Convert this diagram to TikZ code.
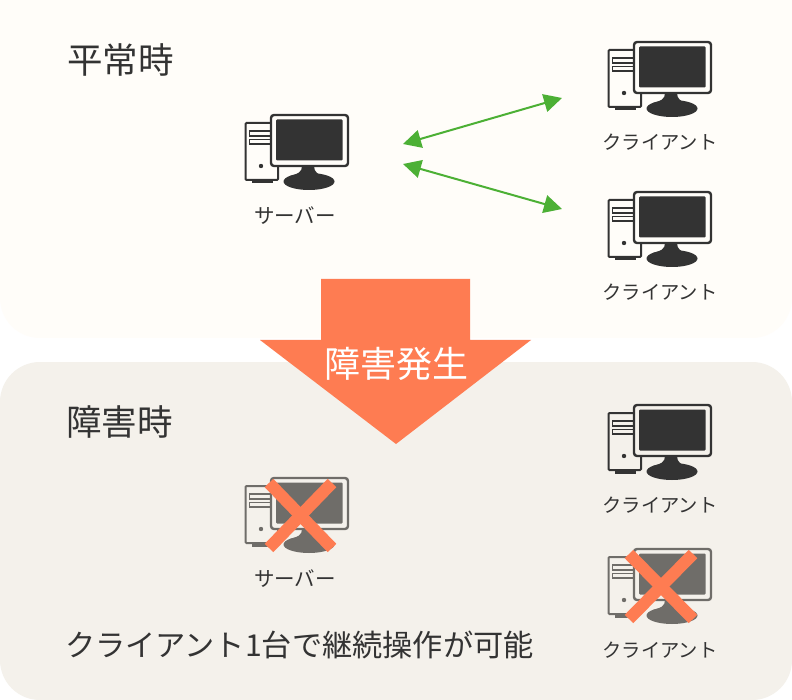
\documentclass[tikz,border=0pt]{standalone}
\usepackage{fontspec}
\newfontfamily\cjk{Noto Sans CJK JP}[Scale=1]
\usetikzlibrary{arrows.meta}
\definecolor{panelA}{HTML}{FFFDF9}
\definecolor{panelB}{HTML}{F4F1EB}
\definecolor{ink}{HTML}{333333}
\definecolor{faded}{HTML}{6F6D69}
\definecolor{coral}{HTML}{FE7C52}
\definecolor{leaf}{HTML}{4CB035}
\tikzset{
  x=1pt,y=-1pt,
  label text/.style={font=\cjk\fontsize{19.3}{22}\selectfont,text=ink,inner sep=0pt},
  srv text/.style={font=\cjk\fontsize{20.5}{22}\selectfont,text=ink,inner sep=0pt},
  title text/.style={font=\cjk\fontsize{35.5}{40}\selectfont,text=ink,inner sep=0pt,anchor=west},
  note text/.style={font=\cjk\fontsize{30.2}{36}\selectfont,text=ink,inner sep=0pt,anchor=west},
  both tips/.style={draw=leaf,line width=2pt,{Triangle[length=18pt,width=18pt]}-{Triangle[length=18pt,width=18pt]}},
  cross bar/.style={draw=coral,line width=12pt},
  pics/pcicon/.style args={#1/#2}{code={
    \draw[draw=#1,line width=2pt,rounded corners=1pt] (15.5,23) rectangle (48,80);
    \fill[#1] (22,80) rectangle (43,83.5);
    \draw[draw=#1,line width=1.8pt] (40,31) -- (19.5,31) -- (19.5,36) -- (40,36);
    \draw[draw=#1,line width=1.8pt] (40,39.5) -- (19.5,39.5) -- (19.5,44) -- (40,44);
    \fill[#1] (31,66) circle[radius=2.2];
    \fill[#1] (72,66) .. controls (72,72) and (68,74) .. (60,76) -- (92,76) .. controls (88,74) and (84,72) .. (84,66) -- cycle;
    \fill[#1] (79,81.5) ellipse[x radius=25.5,y radius=8.5];
    \draw[draw=#1,fill=#2,line width=2.4pt,rounded corners=3pt] (41,15) rectangle (118,66);
    \fill[#1,rounded corners=1pt] (46,19.5) rectangle (112.5,60.5);
  }}
}
\begin{document}
\begin{tikzpicture}
\useasboundingbox (0,0) rectangle (792,700);
\fill[white] (0,0) rectangle (792,700);
\fill[panelA,rounded corners=40pt] (0,-50) rectangle (792,338);
\fill[panelB,rounded corners=40pt] (0,362) rectangle (792,700);

\node[title text] (titleA) at (67,60) {平常時};
\node[title text] (titleB) at (66,422) {障害時};

% icons
\pic at (230,100) {pcicon=ink/panelA};
\pic at (593,27) {pcicon=ink/panelA};
\pic at (593,177) {pcicon=ink/panelA};
\pic at (593,390) {pcicon=ink/panelB};
\pic at (230,463) {pcicon=faded/panelB};
\pic at (593,534) {pcicon=faded/panelB};

\node[srv text] (server) at (295,216) {サーバー};
\node[label text] (clientA) at (660,142) {クライアント};
\node[label text] (clientB) at (660,292) {クライアント};
\node[label text] (clientC) at (660,505) {クライアント};
\node[srv text] (serverDown) at (295,579) {サーバー};
\node[label text] (clientD) at (660,650) {クライアント};

% connectors
\coordinate (srvUp) at (403,144);
\coordinate (srvLow) at (403,164);
\coordinate (cliUp) at (562,98);
\coordinate (cliLow) at (562,209);
\draw[both tips] (srvUp) -- (cliUp);
\draw[both tips] (srvLow) -- (cliLow);

% arrow
\fill[coral] (321,279) -- (470,279) -- (470,340) -- (531,340) -- (396,444) -- (260,340) -- (321,340) -- cycle;
\node[font=\cjk\fontsize{36}{40}\selectfont,text=white,inner sep=0pt] (event) at (396,364) {障害発生};

% crosses
\draw[cross bar] (269,483) -- (332,548);
\draw[cross bar] (332,483) -- (269,548);
\draw[cross bar] (629,554) -- (693,619);
\draw[cross bar] (693,554) -- (629,619);

\node[note text] (note) at (65,645) {クライアント1台で継続操作が可能};
\end{tikzpicture}
\end{document}
